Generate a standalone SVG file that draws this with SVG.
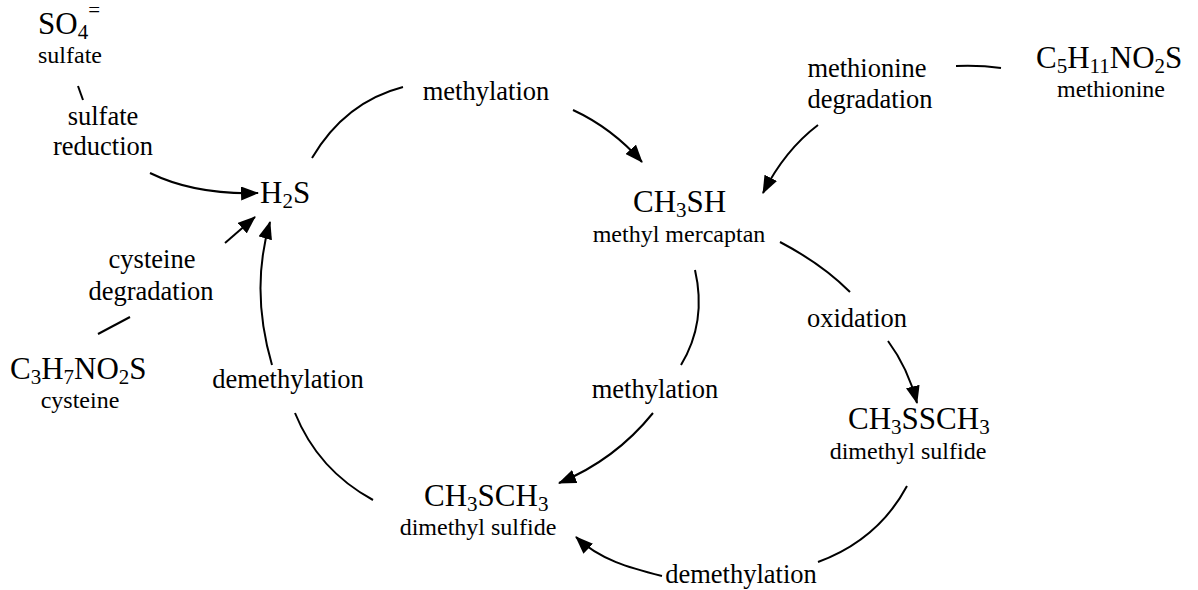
<svg xmlns="http://www.w3.org/2000/svg" width="1198" height="590" viewBox="0 0 1198 590" font-family="'Liberation Serif', 'Times New Roman', serif">
<style>
text{font-family:"Liberation Serif","Times New Roman",serif;fill:#000}
.f{font-size:31px}
.s{font-size:21px}
.n{font-size:24px;text-anchor:middle}
.l{font-size:26.5px;text-anchor:middle}
.c{fill:none;stroke:#000;stroke-width:2}
</style>
<defs>
<marker id="ah" viewBox="0 0 18 14" refX="17" refY="7" markerWidth="18" markerHeight="14" markerUnits="userSpaceOnUse" orient="auto">
<path d="M0,0 L18,7 L0,14 z" fill="#000"/>
</marker>
</defs>
<rect width="1198" height="590" fill="#fff"/>
<g id="connectors">
<path class="c" d="M78,86 L83,100"/>
<path class="c" d="M150,173 Q195,195 258,193" marker-end="url(#ah)"/>
<path class="c" d="M98,334 L130,317"/>
<path class="c" d="M225,243 L255,217" marker-end="url(#ah)"/>
<path class="c" d="M272,365 Q250,290 270,222" marker-end="url(#ah)"/>
<path class="c" d="M295,413 Q318,470 373,500"/>
<path class="c" d="M312,158 Q345,102 403,87"/>
<path class="c" d="M573,110 Q612,128 642,162" marker-end="url(#ah)"/>
<path class="c" d="M956,66 Q980,65 1001,68"/>
<path class="c" d="M818,125 Q785,150 763,193" marker-end="url(#ah)"/>
<path class="c" d="M780,242 Q822,264 850,292"/>
<path class="c" d="M888,341 Q908,368 917,403" marker-end="url(#ah)"/>
<path class="c" d="M907,486 Q878,540 818,562"/>
<path class="c" d="M662,576 C630,568 600,560 576,537" marker-end="url(#ah)"/>
<path class="c" d="M695,270 Q707,322 681,365"/>
<path class="c" d="M653,413 Q615,460 559,483" marker-end="url(#ah)"/>
</g>
<g id="sulfate">
<text class="f" x="38" y="34">SO<tspan class="s" dy="5">4</tspan><tspan class="s" dy="-22">=</tspan></text>
<text class="n" x="70" y="63">sulfate</text>
</g>
<g id="sulfate-reduction">
<text class="l" x="103" y="125">sulfate</text>
<text class="l" x="103" y="155">reduction</text>
</g>
<g id="h2s">
<text class="f" x="260" y="203">H<tspan class="s" dy="5">2</tspan><tspan dy="-5">S</tspan></text>
</g>
<g id="cysteine-degradation">
<text class="l" x="152" y="268">cysteine</text>
<text class="l" x="151" y="300">degradation</text>
</g>
<g id="cysteine">
<text class="f" x="10" y="379">C<tspan class="s" dy="5">3</tspan><tspan dy="-5">H</tspan><tspan class="s" dy="5">7</tspan><tspan dy="-5">NO</tspan><tspan class="s" dy="5">2</tspan><tspan dy="-5">S</tspan></text>
<text class="n" x="80" y="408">cysteine</text>
</g>
<g id="demethylation-left">
<text class="l" x="288" y="388">demethylation</text>
</g>
<g id="methylation-top">
<text class="l" x="486" y="100">methylation</text>
</g>
<g id="ch3sh">
<text class="f" x="633" y="212">CH<tspan class="s" dy="5">3</tspan><tspan dy="-5">SH</tspan></text>
<text class="n" x="679" y="242">methyl mercaptan</text>
</g>
<g id="methionine-degradation">
<text class="l" x="867" y="77">methionine</text>
<text class="l" x="870" y="108">degradation</text>
</g>
<g id="methionine">
<text class="f" x="1036" y="68">C<tspan class="s" dy="5">5</tspan><tspan dy="-5">H</tspan><tspan class="s" dy="5">11</tspan><tspan dy="-5">NO</tspan><tspan class="s" dy="5">2</tspan><tspan dy="-5">S</tspan></text>
<text class="n" x="1111" y="97">methionine</text>
</g>
<g id="oxidation">
<text class="l" x="857" y="327">oxidation</text>
</g>
<g id="ch3ssch3">
<text class="f" x="848" y="429">CH<tspan class="s" dy="5">3</tspan><tspan dy="-5">SSCH</tspan><tspan class="s" dy="5">3</tspan></text>
<text class="n" x="908" y="459">dimethyl sulfide</text>
</g>
<g id="methylation-mid">
<text class="l" x="655" y="398">methylation</text>
</g>
<g id="ch3sch3">
<text class="f" x="424" y="506">CH<tspan class="s" dy="5">3</tspan><tspan dy="-5">SCH</tspan><tspan class="s" dy="5">3</tspan></text>
<text class="n" x="478" y="535">dimethyl sulfide</text>
</g>
<g id="demethylation-bottom">
<text class="l" x="741" y="583">demethylation</text>
</g>
</svg>
